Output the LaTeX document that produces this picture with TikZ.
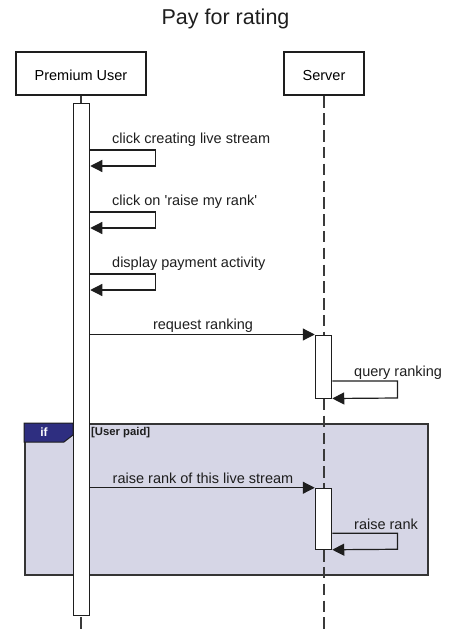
\documentclass[tikz,border=0pt]{standalone}
\usepackage{fontspec}
\setmainfont{Liberation Sans}
\usetikzlibrary{arrows.meta}
\definecolor{ln}{HTML}{1E1E1E}
\definecolor{dashln}{HTML}{3A3A3A}
\definecolor{framefill}{HTML}{D6D6E6}
\definecolor{tabfill}{HTML}{2E2E80}
\begin{document}
\begin{tikzpicture}[x=1pt,y=-1pt,
  lbl/.style={font=\fontsize{14.5}{17}\selectfont, inner sep=0pt, text=ln, yshift=-2pt},
  actor/.style={draw=ln, line width=2pt, fill=white, minimum height=43.5pt, inner sep=0pt,
    text height=13.4pt, text depth=0pt, font=\fontsize{14.5}{17}\selectfont},
  bar/.style={draw=ln, line width=1pt, fill=white, minimum width=16.5pt, inner sep=0pt},
  life/.style={draw=dashln, line width=1.4pt, dash pattern=on 11.5pt off 5.3pt},
  msg/.style={draw=ln, line width=1.2pt, -{Triangle[length=12pt,width=12pt]}}]
\useasboundingbox (0,0) rectangle (451,631);

% title
\node[font=\fontsize{21.5}{25}\selectfont, text=ln] (title) at (225.5,19) {Pay for rating};

% combined fragment frame
\node[draw=ln!90, line width=2pt, fill=framefill, minimum width=402.5pt, minimum height=150.5pt,
  inner sep=0pt, anchor=north west] (frag) at (24,423) {};
\path[draw=ln, line width=1pt, fill=tabfill]
  (frag.north west) -- (73,423) -- (73,435) -- (64,442) -- (24,442) -- cycle;
\node[text=white, font=\fontsize{12}{14}\bfseries\selectfont, inner sep=0pt] (iflbl) at (44,432) {if};
\node[font=\fontsize{11.3}{13}\bfseries\selectfont, text=ln, inner sep=0pt, anchor=west] (guard)
  at (91,432.5) {[User paid]};

% participants
\node[actor, minimum width=130pt] (user) at (81,73.75) {Premium User};
\node[actor, minimum width=80pt] (server) at (324,73.75) {Server};

% lifelines
\coordinate (uend) at (81,631);
\coordinate (send) at (324,631);
\draw[life] (user.south) -- (uend);
\draw[life] (server.south) -- (send);

% activation bars
\node[bar, minimum height=511pt] (ubar) at (81.5,359.5) {};
\node[bar, minimum height=63pt] (sbar1) at (323.5,366.5) {};
\node[bar, minimum height=61pt] (sbar2) at (323.5,518.75) {};

% self messages on Premium User
\coordinate (s1a) at (155.5,150); \coordinate (s1b) at (155.5,166);
\coordinate (s2a) at (155.5,212); \coordinate (s2b) at (155.5,228);
\coordinate (s3a) at (155.5,274); \coordinate (s3b) at (155.5,290);
\draw[msg] (ubar.east |- s1a) -- (s1a) -- (s1b) -- (ubar.east |- s1b);
\draw[msg] (ubar.east |- s2a) -- (s2a) -- (s2b) -- (ubar.east |- s2b);
\draw[msg] (ubar.east |- s3a) -- (s3a) -- (s3b) -- (ubar.east |- s3b);
\node[lbl, anchor=west] (l1) at (112,138) {click creating live stream};
\node[lbl, anchor=west] (l2) at (112,200) {click on \textquotesingle raise my rank\textquotesingle};
\node[lbl, anchor=west] (l3) at (112,262) {display payment activity};

% request ranking
\draw[msg] (ubar.east |- sbar1.north) -- (sbar1.north west);
\node[lbl] (l4) at (203,324) {request ranking};

% query ranking (self message on Server)
\coordinate (q1a) at (397.5,381); \coordinate (q1b) at (397.5,398);
\draw[msg] (sbar1.east |- q1a) -- (q1a) -- (q1b) -- (sbar1.south east);
\node[lbl, anchor=west] (l5) at (354,371) {query ranking};

% raise rank of this live stream
\draw[msg] (ubar.east |- sbar2.north) -- (sbar2.north west);
\node[lbl] (l6) at (203,476) {raise rank of this live stream};

% raise rank (self message on Server)
\coordinate (q2a) at (397.5,533.3); \coordinate (q2b) at (397.5,549.25);
\draw[msg] (sbar2.east |- q2a) -- (q2a) -- (q2b) -- (sbar2.south east);
\node[lbl, anchor=west] (l7) at (354,522) {raise rank};
\end{tikzpicture}
\end{document}
